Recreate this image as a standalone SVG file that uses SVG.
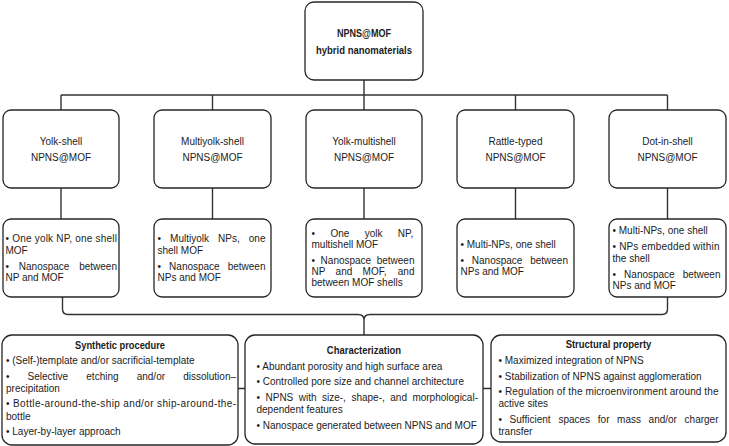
<svg xmlns="http://www.w3.org/2000/svg" width="729" height="446" viewBox="0 0 729 446">
<style>
.box{fill:#fff;stroke:#262626;stroke-width:1.3}
.ln{fill:none;stroke:#333;stroke-width:1.4}
text{font-family:"Liberation Sans",Arial,sans-serif;font-size:10px;fill:#1c1c1c}
.b{font-weight:bold}
.c{text-anchor:middle}
</style>
<rect width="729" height="446" fill="#fff"/>
<g id="connectors">
<path class="ln" d="M364,80V95M61,95H667.5M61,95V110M212.5,95V110M364,95V110M515.5,95V110M667.5,95V110"/>
<path class="ln" d="M61,188V219M212.5,188V219M364,188V219M515.5,188V219M667.5,188V219"/>
<path class="ln" d="M62.5,297V309Q62.5,314.5 68,314.5H358Q364,314.5 364,320M667.5,297V309Q667.5,314.5 662,314.5H370Q364,314.5 364,320V335"/>
<path class="ln" d="M238,388.5H245M483,388.5H491"/>
</g>
<g id="root">
<rect class="box" x="305" y="2" width="118" height="78" rx="9"/>
<text class="b c" x="364" y="37" textLength="54" lengthAdjust="spacingAndGlyphs">NPNS@MOF</text>
<text class="b c" x="364" y="53.5" textLength="96" lengthAdjust="spacingAndGlyphs">hybrid nanomaterials</text>
</g>
<g id="type-yolk-shell">
<rect class="box" x="3" y="110" width="116" height="78" rx="8"/>
<text class="c" x="61" y="144.5">Yolk-shell</text>
<text class="c" x="61" y="160.8">NPNS@MOF</text>
</g>
<g id="type-multiyolk-shell">
<rect class="box" x="154" y="110" width="117" height="78" rx="8"/>
<text class="c" x="212.5" y="144.5">Multiyolk-shell</text>
<text class="c" x="212.5" y="160.8">NPNS@MOF</text>
</g>
<g id="type-yolk-multishell">
<rect class="box" x="306" y="110" width="116" height="78" rx="8"/>
<text class="c" x="364" y="144.5">Yolk-multishell</text>
<text class="c" x="364" y="160.8">NPNS@MOF</text>
</g>
<g id="type-rattle-typed">
<rect class="box" x="457" y="110" width="117" height="78" rx="8"/>
<text class="c" x="515.5" y="144.5">Rattle-typed</text>
<text class="c" x="515.5" y="160.8">NPNS@MOF</text>
</g>
<g id="type-dot-in-shell">
<rect class="box" x="609" y="110" width="117" height="78" rx="8"/>
<text class="c" x="667.5" y="144.5">Dot-in-shell</text>
<text class="c" x="667.5" y="160.8">NPNS@MOF</text>
</g>
<g id="desc-yolk-shell">
<rect class="box" x="3" y="219" width="116" height="78" rx="8"/>
<text x="5.5" y="242.3" textLength="111.5">• One yolk NP, one shell</text>
<text x="5.5" y="253.5">MOF</text>
<text y="269.5"><tspan x="5.5">•</tspan><tspan x="18.8">Nanospace</tspan><tspan x="79.2">between</tspan></text>
<text x="5.5" y="280.7">NP and MOF</text>
</g>
<g id="desc-multiyolk-shell">
<rect class="box" x="154" y="219" width="117" height="78" rx="8"/>
<text y="242.3"><tspan x="157.5">•</tspan><tspan x="170.1">Multiyolk</tspan><tspan x="218.1">NPs,</tspan><tspan x="248.8">one</tspan></text>
<text x="157.5" y="253.5">shell MOF</text>
<text y="269.5"><tspan x="157.5">•</tspan><tspan x="169.1">Nanospace</tspan><tspan x="227.7">between</tspan></text>
<text x="157.5" y="280.7">NPs and MOF</text>
</g>
<g id="desc-yolk-multishell">
<rect class="box" x="306" y="219" width="116" height="78" rx="8"/>
<text y="236.7"><tspan x="311.5">•</tspan><tspan x="330.4">One</tspan><tspan x="364.7">yolk</tspan><tspan x="397.8">NP,</tspan></text>
<text x="311.5" y="247.9">multishell MOF</text>
<text y="263.9"><tspan x="311.5">•</tspan><tspan x="320.6">Nanospace</tspan><tspan x="376.7">between</tspan></text>
<text y="275.1"><tspan x="311.5">NP</tspan><tspan x="335.6">and</tspan><tspan x="362.6">MOF,</tspan><tspan x="397.8">and</tspan></text>
<text x="311.5" y="286.3">between MOF shells</text>
</g>
<g id="desc-rattle-typed">
<rect class="box" x="457" y="219" width="117" height="78" rx="8"/>
<text x="460.5" y="248">• Multi-NPs, one shell</text>
<text y="264"><tspan x="460.5">•</tspan><tspan x="471.8">Nanospace</tspan><tspan x="530.2">between</tspan></text>
<text x="460.5" y="275.2">NPs and MOF</text>
</g>
<g id="desc-dot-in-shell">
<rect class="box" x="609" y="219" width="117" height="78" rx="8"/>
<text x="612.5" y="234.3">• Multi-NPs, one shell</text>
<text x="612.5" y="250.3" textLength="107">• NPs embedded within</text>
<text x="612.5" y="261.5">the shell</text>
<text y="277.5"><tspan x="612.5">•</tspan><tspan x="624.1">Nanospace</tspan><tspan x="682.7">between</tspan></text>
<text x="612.5" y="288.7">NPs and MOF</text>
</g>
<g id="synthetic-procedure">
<rect class="box" x="2" y="335" width="236" height="110" rx="10"/>
<text class="b c" x="120" y="348.5" textLength="90" lengthAdjust="spacingAndGlyphs">Synthetic procedure</text>
<text x="6" y="363.5">• (Self-)template and/or sacrificial-template</text>
<text y="380"><tspan x="6">•</tspan><tspan x="27.6">Selective</tspan><tspan x="86.3">etching</tspan><tspan x="136.7">and/or</tspan><tspan x="183.2">dissolution–</tspan></text>
<text x="6" y="392">precipitation</text>
<text x="6" y="407" textLength="230">• Bottle-around-the-ship and/or ship-around-the-</text>
<text x="6" y="419.5">bottle</text>
<text x="6" y="435">• Layer-by-layer approach</text>
</g>
<g id="characterization">
<rect class="box" x="245" y="335" width="238" height="109" rx="10"/>
<text class="b c" x="364" y="354" textLength="74.3" lengthAdjust="spacingAndGlyphs">Characterization</text>
<text x="256.5" y="369.5">• Abundant porosity and high surface area</text>
<text x="256.5" y="385">• Controlled pore size and channel architecture</text>
<text y="400.5"><tspan x="256.5">•</tspan><tspan x="265.5">NPNS</tspan><tspan x="298.8">with</tspan><tspan x="322">size-,</tspan><tspan x="351.4">shape-,</tspan><tspan x="390.3">and</tspan><tspan x="412.4">morphological-</tspan></text>
<text x="256.5" y="412.5">dependent features</text>
<text x="256.5" y="428.5">• Nanospace generated between NPNS and MOF</text>
</g>
<g id="structural-property">
<rect class="box" x="491" y="335" width="235" height="107" rx="10"/>
<text class="b c" x="608.5" y="348" textLength="85.7" lengthAdjust="spacingAndGlyphs">Structural property</text>
<text x="498.5" y="364">• Maximized integration of NPNS</text>
<text x="498.5" y="379.5">• Stabilization of NPNS against agglomeration</text>
<text x="498.5" y="395" textLength="220">• Regulation of the microenvironment around the</text>
<text x="498.5" y="407">active sites</text>
<text y="422.5"><tspan x="498.5">•</tspan><tspan x="509.6">Sufficient</tspan><tspan x="558.4">spaces</tspan><tspan x="597.8">for</tspan><tspan x="617.1">mass</tspan><tspan x="648.6">and/or</tspan><tspan x="684.6">charger</tspan></text>
<text x="498.5" y="434.5">transfer</text>
</g>
</svg>
